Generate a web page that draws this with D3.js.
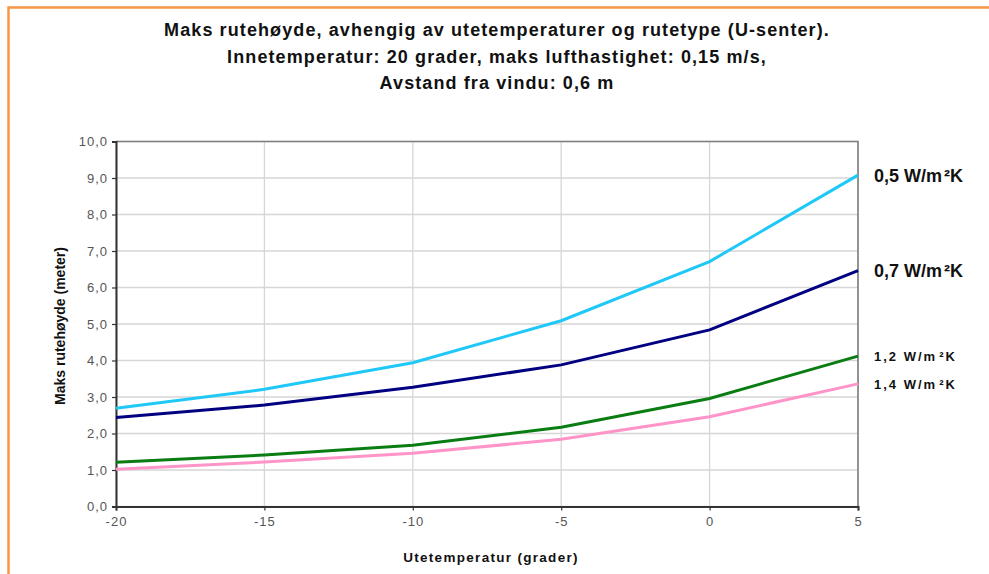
<!DOCTYPE html>
<html lang="no">
<head>
    <meta charset="UTF-8">
    <title>Maks rutehøyde</title>
    <script src="https://cdn.jsdelivr.net/npm/d3@7/dist/d3.min.js"></script>
    <style>
      body { margin: 0; background: #fff; }
      text { font-family: "Liberation Sans", Arial, sans-serif; }
    </style>
</head>
<body>
<script>
  // data
  var temps = [-20, -15, -10, -5, 0, 5];
  var u05 = [2.69, 3.21, 3.94, 5.09, 6.71, 9.08];
  var u07 = [2.44, 2.78, 3.27, 3.88, 4.84, 6.46];
  var u12 = [1.21, 1.41, 1.68, 2.17, 2.96, 4.12];
  var u14 = [1.02, 1.22, 1.46, 1.84, 2.46, 3.36];
  var seriesNames = ["0,5", "0,7", "1,2", "1,4"];
  var yTicks = [0, 1, 2, 3, 4, 5, 6, 7, 8, 9, 10];
  var xTicks = [-20, -15, -10, -5, 0, 5];
  var titleLines = [
    "Maks rutehøyde, avhengig av utetemperaturer og rutetype (U-senter).",
    "Innetemperatur: 20 grader, maks lufthastighet: 0,15 m/s,",
    "Avstand fra vindu: 0,6 m"
  ];

  drawChart();

  function drawChart() {
    var width = 989, height = 574;
    var left = 116, right = 858, top = 141.5, bottom = 506.5;

    var svg = d3.select("body").append("svg")
      .attr("width", width)
      .attr("height", height);

    // orange frame (top + left only visible)
    svg.append("path")
      .attr("d", "M8.5," + height + "V7.5H" + width)
      .attr("fill", "none")
      .attr("stroke", "#f79646")
      .attr("stroke-width", 2.5);

    var x = d3.scaleLinear().domain([-20, 5]).range([left, right]);
    var y = d3.scaleLinear().domain([0, 10]).range([bottom, top]);

    // title
    svg.selectAll(".title").data(titleLines).enter().append("text")
      .attr("class", "title")
      .attr("x", 497)
      .attr("y", function (d, i) { return 36 + i * 26.5; })
      .attr("text-anchor", "middle")
      .attr("font-size", 18)
      .attr("letter-spacing", 1.1)
      .attr("font-weight", "bold")
      .attr("fill", "#111")
      .text(function (d) { return d; });

    // grid
    svg.append("g").selectAll("line").data(yTicks).enter().append("line")
      .attr("x1", left).attr("x2", right)
      .attr("y1", function (d) { return y(d); })
      .attr("y2", function (d) { return y(d); })
      .attr("stroke", "#d6d6d6").attr("stroke-width", 1.3);
    svg.append("g").selectAll("line").data(xTicks).enter().append("line")
      .attr("y1", top).attr("y2", bottom)
      .attr("x1", function (d) { return x(d); })
      .attr("x2", function (d) { return x(d); })
      .attr("stroke", "#d6d6d6").attr("stroke-width", 1.3);

    // plot frame top + right
    svg.append("path")
      .attr("d", "M" + left + "," + top + "H" + right + "V" + bottom)
      .attr("fill", "none")
      .attr("stroke", "#7f7f7f")
      .attr("stroke-width", 1.6);

    var fmt = function (d) { return d3.format(".1f")(d).replace(".", ","); };

    // y axis
    var yAxis = svg.append("g")
      .attr("transform", "translate(" + left + ",0)")
      .call(d3.axisLeft(y).tickValues(yTicks).tickSize(4).tickPadding(4).tickFormat(fmt));
    // x axis
    var xAxis = svg.append("g")
      .attr("transform", "translate(0," + bottom + ")")
      .call(d3.axisBottom(x).tickValues(xTicks).tickSize(4).tickPadding(6).tickFormat(d3.format("d")));

    [yAxis, xAxis].forEach(function (g) {
      g.select(".domain").attr("stroke", "#333").attr("stroke-width", 2);
      g.selectAll(".tick line").attr("stroke", "#333").attr("stroke-width", 1.2);
      g.selectAll(".tick text")
        .attr("fill", "#555")
        .attr("letter-spacing", 1)
        .attr("font-size", 13);
    });
    xAxis.selectAll(".tick text").text(function (d) { return d < 0 ? "-" + Math.abs(d) : d; });

    // axis titles
    svg.append("text")
      .attr("transform", "translate(65,326) rotate(-90)")
      .attr("text-anchor", "middle")
      .attr("font-size", 14)
      .attr("font-weight", "bold")
      .attr("fill", "#111")
      .text("Maks rutehøyde (meter)");
    svg.append("text")
      .attr("x", 491).attr("y", 562)
      .attr("text-anchor", "middle")
      .attr("font-size", 13.5)
      .attr("font-weight", "bold")
      .attr("letter-spacing", 1.3)
      .attr("fill", "#111")
      .text("Utetemperatur (grader)");

    // lines
    var series = [
      {name: seriesNames[0], values: u05, color: "#1fc8f7", big: true},
      {name: seriesNames[1], values: u07, color: "#000080", big: true},
      {name: seriesNames[2], values: u12, color: "#0a7d12", big: false},
      {name: seriesNames[3], values: u14, color: "#ff94c8", big: false}
    ];

    var line = d3.line()
      .x(function (d, i) { return x(temps[i]); })
      .y(function (d) { return y(d); });

    svg.append("g").selectAll("path").data(series).enter().append("path")
      .attr("d", function (s) { return line(s.values); })
      .attr("fill", "none")
      .attr("stroke", function (s) { return s.color; })
      .attr("stroke-width", 3);

    // labels at right end
    var labels = svg.append("g").selectAll("text").data(series).enter().append("text")
      .attr("x", 874)
      .attr("y", function (s) { return y(s.values[s.values.length - 1]) + (s.big ? 6.5 : 5); })
      .attr("font-size", function (s) { return s.big ? 18 : 13; })
      .attr("letter-spacing", function (s) { return s.big ? 0 : 2; })
      .attr("font-weight", "bold")
      .attr("fill", "#111");
    labels.append("tspan").text(function (s) { return s.name + " W/m"; });
    labels.append("tspan").text("²").attr("dx", 2);
    labels.append("tspan").text("K");
  }
</script>
</body>
</html>
